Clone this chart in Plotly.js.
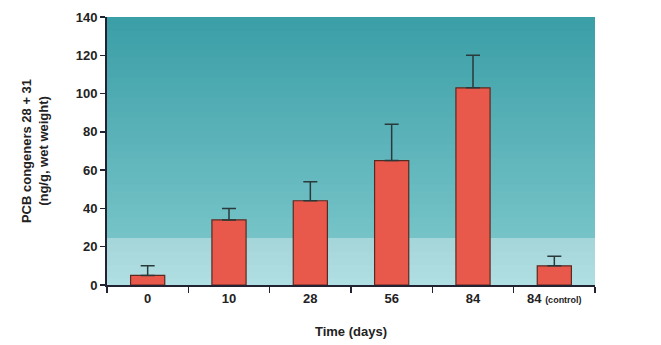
<!DOCTYPE html>
<html><head><meta charset="utf-8">
<script src="https://cdn.plot.ly/plotly-3.0.1.min.js"></script>
<style>html,body{margin:0;padding:0;background:#fff}#c{width:661px;height:345px}</style>
</head><body><div id="c"></div>
<script>
const categories = ["0", "10", "28", "56", "84", "84 (control)"];
const tickLabels = ["0", "10", "28", "56", "84", "84 <span style='font-size:9px'>(control)</span>"];
const means = [5, 34, 44, 65, 103, 10];
const errUp = [5, 6, 10, 19, 17, 5];

// background gradient bands (decoration)
const shapes = [];
const N = 40;
function lerp(a,b,t){return Math.round(a+(b-a)*t);}
for (let i=0;i<N;i++){
  const y0=i/N, y1=(i+1)/N;
  const t=1-(y0+y1)/2;
  let c;
  if (y1 <= 0.175) {
    const v=1-y1/0.175;
    c=[lerp(165,178,v),lerp(214,224,v),lerp(218,228,v)];
  } else {
    const u=t/0.83;
    c=[lerp(58,118,u),lerp(158,196,u),lerp(166,200,u)];
  }
  shapes.push({type:'rect',xref:'paper',yref:'paper',x0:0,x1:1,y0:y0,y1:Math.min(1,y1+0.012),
    fillcolor:`rgb(${c[0]},${c[1]},${c[2]})`,line:{width:0},layer:'below'});
}

const trace = {
  type:'bar', x:categories, y:means, width:0.42,
  marker:{color:'#e9594b', line:{color:'#5a2a22', width:1.2}},
  error_y:{type:'data', symmetric:false, array:errUp, arrayminus:[0,0,0,0,0,0],
    color:'#2a3a3a', thickness:1.5, width:7}
};
const layout = {
  width:661, height:345,
  margin:{l:107, r:66, t:17, b:60},
  paper_bgcolor:'#ffffff', plot_bgcolor:'rgba(0,0,0,0)',
  shapes:shapes,
  showlegend:false,
  font:{family:'Liberation Sans, Arial, sans-serif', color:'#222'},
  xaxis:{
    type:'category',
    tickvals:categories, ticktext:tickLabels, tickson:'boundaries',
    ticks:'outside', ticklen:6, tickwidth:1.5, tickcolor:'#223',
    showline:true, linecolor:'#223', linewidth:2, mirror:false,
    tickfont:{size:13, weight:'bold'},
    title:{text:'<b>Time (days)</b>', font:{size:13}, standoff:22},
    showgrid:false, zeroline:false, fixedrange:true
  },
  yaxis:{
    range:[0,140], tickvals:[0,20,40,60,80,100,120,140],
    ticks:'outside', ticklen:5, tickwidth:1.5, tickcolor:'#223',
    showline:true, linecolor:'#223', linewidth:2,
    tickfont:{size:13, weight:'bold'},
    title:{text:'<b>PCB congeners 28 + 31<br>(ng/g, wet weight)</b>', font:{size:13}, standoff:24},
    showgrid:false, zeroline:false, fixedrange:true
  }
};
Plotly.newPlot('c',[trace],layout,{displayModeBar:false,staticPlot:true});
</script></body></html>
